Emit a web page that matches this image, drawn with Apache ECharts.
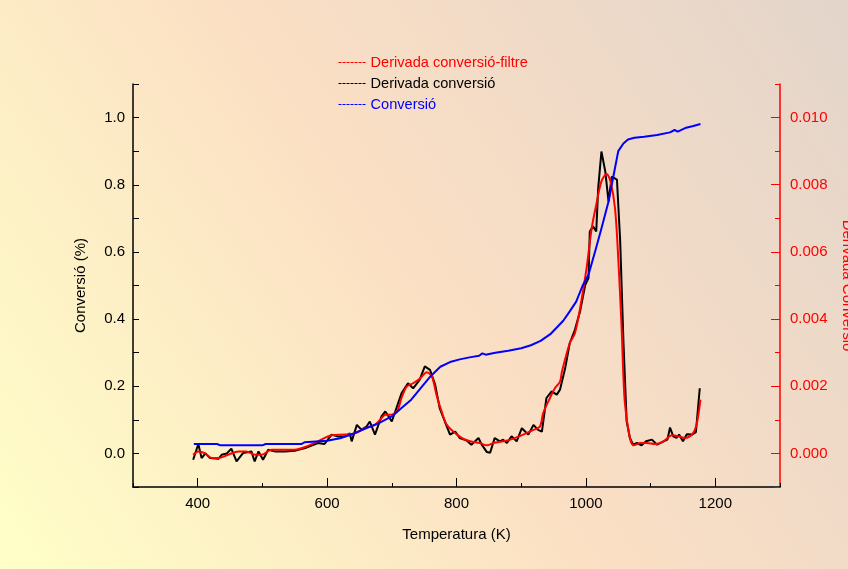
<!DOCTYPE html>
<html>
<head>
<meta charset="utf-8">
<script src="https://cdn.jsdelivr.net/npm/echarts@6/dist/echarts.min.js"></script>
<style>
  html, body { margin: 0; padding: 0; }
  #main { width: 848px; height: 569px; }
</style>
</head>
<body>
<div id="main"></div>
<script>
// Conversió (eix esquerre)
var convT = [394, 430, 435, 500, 505, 560, 565, 600, 620, 640, 660, 680, 700, 715, 730, 745, 760, 775, 790, 805,
  820, 835, 840, 845, 860, 880, 900, 915, 930, 945, 955, 965, 975, 985, 995, 1004, 1014, 1024, 1035, 1042,
  1050, 1058, 1065, 1075, 1090, 1110, 1130, 1137, 1142, 1155, 1166, 1177];
var convV = [0.028, 0.028, 0.024, 0.024, 0.028, 0.028, 0.033, 0.038, 0.045, 0.058, 0.075, 0.090, 0.110, 0.135, 0.160, 0.195, 0.230, 0.258, 0.272, 0.280,
  0.286, 0.291, 0.298, 0.294, 0.300, 0.306, 0.313, 0.322, 0.335, 0.355, 0.375, 0.395, 0.423, 0.452, 0.500, 0.532, 0.600, 0.670, 0.750, 0.820,
  0.900, 0.923, 0.935, 0.940, 0.943, 0.948, 0.956, 0.963, 0.958, 0.970, 0.975, 0.981];

// Derivada conversió (eix dret)
var derT = [393, 401, 406, 412, 419, 432, 437, 445, 452, 460, 470, 483, 488, 494, 501, 509, 519, 535, 550, 566,
  586, 596, 607, 617, 628, 635, 638, 646, 653, 661, 666, 674, 684, 690, 700, 715, 725, 733, 743, 751,
  759, 767, 774, 782, 790, 798, 805, 816, 823, 834, 839, 847, 852, 859, 867, 872, 878, 885, 893, 901,
  911, 919, 926, 932, 939, 947, 955, 960, 963, 968, 975, 983, 991, 999, 1004, 1006, 1011, 1016, 1019, 1024,
  1030, 1035, 1037, 1040, 1048, 1053, 1058, 1063, 1068, 1073, 1079, 1086, 1093, 1102, 1110, 1120, 1126, 1130, 1135, 1140,
  1144, 1150, 1156, 1164, 1170, 1176];
var derV = [-0.00019, 0.00028, -0.00014, 0.00000, -0.00014, -0.00016, -0.00004, 0.00000, 0.00014, -0.00024, 0.00001, 0.00006, -0.00024, 0.00006, -0.00019, 0.00011, 0.00006, 0.00006, 0.00008, 0.00016,
  0.00031, 0.00028, 0.00056, 0.00050, 0.00051, 0.00060, 0.00036, 0.00085, 0.00071, 0.00080, 0.00095, 0.00056, 0.00110, 0.00125, 0.00095, 0.00179, 0.00209, 0.00194, 0.00219, 0.00259,
  0.00249, 0.00205, 0.00135, 0.00095, 0.00056, 0.00065, 0.00046, 0.00038, 0.00026, 0.00046, 0.00026, 0.00004, 0.00002, 0.00046, 0.00036, 0.00041, 0.00031, 0.00051, 0.00036, 0.00075,
  0.00056, 0.00085, 0.00070, 0.00065, 0.00165, 0.00185, 0.00175, 0.00190, 0.00214, 0.00254, 0.00328, 0.00368, 0.00423, 0.00502, 0.00522, 0.00661, 0.00676, 0.00661, 0.00790, 0.00899,
  0.00839, 0.00750, 0.00780, 0.00824, 0.00815, 0.00631, 0.00333, 0.00095, 0.00046, 0.00026, 0.00031, 0.00024, 0.00036, 0.00041, 0.00026, 0.00036, 0.00041, 0.00077, 0.00051, 0.00046,
  0.00056, 0.00036, 0.00057, 0.00056, 0.00063, 0.00194];

// Derivada conversió-filtre (eix dret)
var filT = [393, 401, 411, 422, 432, 447, 463, 475, 489, 499, 514, 535, 550, 566, 586, 607, 628, 643, 659, 674,
  682, 690, 697, 708, 715, 723, 733, 744, 754, 762, 769, 777, 785, 795, 808, 821, 836, 847, 857, 872,
  883, 903, 919, 929, 934, 942, 952, 960, 963, 975, 983, 991, 1001, 1009, 1017, 1024, 1032, 1038, 1045, 1050,
  1055, 1060, 1068, 1074, 1084, 1094, 1107, 1120, 1133, 1143, 1153, 1164, 1171, 1177];
var filV = [-0.00004, 0.00006, 0.00001, -0.00014, -0.00014, -0.00004, 0.00006, 0.00006, -0.00004, -0.00004, 0.00011, 0.00011, 0.00011, 0.00019, 0.00036, 0.00054, 0.00056, 0.00060, 0.00075, 0.00085,
  0.00100, 0.00115, 0.00115, 0.00125, 0.00165, 0.00199, 0.00209, 0.00224, 0.00242, 0.00229, 0.00175, 0.00125, 0.00085, 0.00065, 0.00046, 0.00036, 0.00031, 0.00024, 0.00031, 0.00036,
  0.00041, 0.00056, 0.00070, 0.00080, 0.00120, 0.00155, 0.00194, 0.00214, 0.00244, 0.00328, 0.00358, 0.00432, 0.00551, 0.00671, 0.00750, 0.00810, 0.00832, 0.00810, 0.00730, 0.00581,
  0.00383, 0.00155, 0.00046, 0.00024, 0.00031, 0.00031, 0.00028, 0.00036, 0.00054, 0.00051, 0.00046, 0.00056, 0.00085, 0.00160];

var xMajor = [400, 600, 800, 1000, 1200];
var yRightMajor = [0, 0.002, 0.004, 0.006, 0.008, 0.010];

function pairs(xs, ys) {
  var out = [];
  xs.forEach(function (x, i) { out.push([x, ys[i]]); });
  return out;
}

var font = 'Liberation Sans, Arial, sans-serif';
var myChart = echarts.init(document.getElementById('main'));

var option = {
  backgroundColor: {
    type: 'linear', x: 0, y: 1, x2: 1, y2: 0,
    colorStops: [
      { offset: 0, color: '#FFFFC8' },
      { offset: 0.5, color: '#FBDFC4' },
      { offset: 1, color: '#E3D5CB' }
    ]
  },
  animation: false,
  textStyle: { fontFamily: font },
  grid: { left: 133, right: 68, top: 84, bottom: 82, outerBoundsMode: 'none' },
  legend: {
    orient: 'vertical',
    left: 333, top: 50,
    itemWidth: 27, itemHeight: 14, itemGap: 6,
    itemStyle: { opacity: 0 },
    lineStyle: { type: [3, 1], width: 1 },
    textStyle: { fontSize: 14.6, fontFamily: font },
    data: [
      { name: 'Derivada conversió-filtre', textStyle: { color: '#FF0000' } },
      { name: 'Derivada conversió', textStyle: { color: '#000000' } },
      { name: 'Conversió', textStyle: { color: '#0000FF' } }
    ]
  },
  xAxis: [{
    type: 'value', min: 300, max: 1300, interval: 100,
    name: 'Temperatura (K)', nameLocation: 'middle', nameGap: 40,
    nameTextStyle: { color: '#000', fontSize: 15 },
    axisLine: { onZero: false, lineStyle: { color: '#000', width: 1.5 } },
    axisTick: { inside: true, length: 4, lineStyle: { color: '#000' } },
    axisLabel: {
      interval: 0, color: '#000', fontSize: 15, margin: 9,
      formatter: function (v) { return v % 200 === 0 ? String(v) : ''; }
    },
    splitLine: { show: false }
  }, {
    type: 'value', min: 300, max: 1300, interval: 100, position: 'bottom',
    axisLine: { show: false, onZero: false },
    axisTick: { inside: true, length: 9, customValues: xMajor, lineStyle: { color: '#000' } },
    axisLabel: { show: false },
    splitLine: { show: false }
  }],
  yAxis: [{
    type: 'value', min: -0.1, max: 1.1, interval: 0.1, position: 'left',
    name: 'Conversió (%)', nameLocation: 'middle', nameGap: 45,
    nameTextStyle: { color: '#000', fontSize: 15 },
    axisLine: { show: true, onZero: false, lineStyle: { color: '#000', width: 1.5 } },
    axisTick: { show: true, inside: true, length: 6, lineStyle: { color: '#000' } },
    axisLabel: {
      interval: 0, color: '#000', fontSize: 15, margin: 8,
      formatter: function (v) { return Math.round(v * 10) % 2 === 0 ? v.toFixed(1) : ''; }
    },
    splitLine: { show: false }
  }, {
    type: 'value', min: -0.001, max: 0.011, interval: 0.001, position: 'right',
    name: 'Derivada Conversió', nameLocation: 'middle', nameGap: 60, nameRotate: -90,
    nameTextStyle: { color: '#FF0000', fontSize: 15 },
    axisLine: { show: true, onZero: false, lineStyle: { color: '#FF0000', width: 1.5 } },
    axisTick: { show: true, inside: true, length: 5, lineStyle: { color: '#FF0000' } },
    axisLabel: {
      interval: 0, color: '#FF0000', fontSize: 15, margin: 10,
      formatter: function (v) { return Math.round(v * 1000) % 2 === 0 ? v.toFixed(3) : ''; }
    },
    splitLine: { show: false }
  }, {
    type: 'value', min: -0.001, max: 0.011, interval: 0.001, position: 'right',
    axisLine: { show: false, onZero: false },
    axisTick: { show: true, inside: true, length: 9, customValues: yRightMajor, lineStyle: { color: '#FF0000' } },
    axisLabel: { show: false },
    splitLine: { show: false }
  }],
  series: [{
    name: 'Derivada conversió',
    type: 'line', xAxisIndex: 0, yAxisIndex: 1,
    symbol: 'none', color: '#000000',
    lineStyle: { width: 2 },
    data: pairs(derT, derV)
  }, {
    name: 'Derivada conversió-filtre',
    type: 'line', xAxisIndex: 0, yAxisIndex: 1,
    symbol: 'none', color: '#FF0000', smooth: 0.3,
    lineStyle: { width: 2 },
    data: pairs(filT, filV)
  }, {
    name: 'Conversió',
    type: 'line', xAxisIndex: 0, yAxisIndex: 0,
    symbol: 'none', color: '#0000FF',
    lineStyle: { width: 2 },
    data: pairs(convT, convV)
  }]
};

myChart.setOption(option);
</script>
</body>
</html>
